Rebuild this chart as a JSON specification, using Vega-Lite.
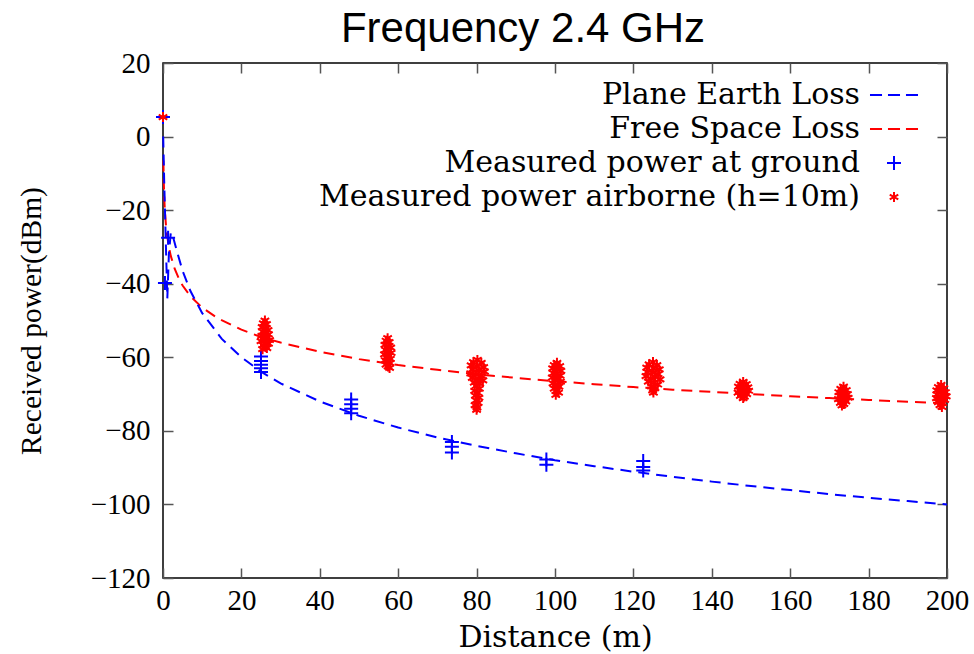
{
  "$schema": "https://vega.github.io/schema/vega-lite/v6.json",
  "width": 784,
  "height": 515,
  "autosize": {"type": "none"},
  "padding": {"left": 163, "top": 63, "right": 27, "bottom": 76},
  "background": "white",
  "title": {"text": "Frequency 2.4 GHz", "font": "Liberation Sans", "fontSize": 42, "fontWeight": "normal", "color": "black", "anchor": "middle", "dx": -32, "offset": -2},
  "config": {
    "view": {"stroke": "black", "strokeWidth": 1.5},
    "axis": {"labelFont": "Liberation Serif", "labelFontSize": 29, "labelColor": "black", "titleFont": "Liberation Serif", "titleFontSize": 30, "titleFontWeight": "normal", "titleColor": "black", "tickColor": "#555555", "tickWidth": 1.5, "tickSize": -10, "domain": false, "grid": false, "labelFlush": false, "labelOverlap": false},
    "legend": {"labelFont": "DejaVu Serif", "labelFontSize": 30, "labelColor": "black", "labelAlign": "right", "labelOffset": -49, "labelLimit": 1000, "symbolSize": 196, "symbolStrokeWidth": 2, "rowPadding": 4, "padding": 0}
  },
  "datasets": {
    "lines": [
      {"series": "Free Space Loss", "distance": 0.1, "power": -6.5},
      {"series": "Free Space Loss", "distance": 0.2, "power": -12.5},
      {"series": "Free Space Loss", "distance": 0.35, "power": -17.4},
      {"series": "Free Space Loss", "distance": 0.5, "power": -20.5},
      {"series": "Free Space Loss", "distance": 0.75, "power": -24},
      {"series": "Free Space Loss", "distance": 1, "power": -26.5},
      {"series": "Free Space Loss", "distance": 1.5, "power": -30},
      {"series": "Free Space Loss", "distance": 2, "power": -32.5},
      {"series": "Free Space Loss", "distance": 3, "power": -36},
      {"series": "Free Space Loss", "distance": 4, "power": -38.5},
      {"series": "Free Space Loss", "distance": 5, "power": -40.5},
      {"series": "Free Space Loss", "distance": 7, "power": -43.4},
      {"series": "Free Space Loss", "distance": 10, "power": -46.5},
      {"series": "Free Space Loss", "distance": 14, "power": -49.4},
      {"series": "Free Space Loss", "distance": 20, "power": -52.5},
      {"series": "Free Space Loss", "distance": 25, "power": -54.5},
      {"series": "Free Space Loss", "distance": 30, "power": -56},
      {"series": "Free Space Loss", "distance": 40, "power": -58.5},
      {"series": "Free Space Loss", "distance": 50, "power": -60.5},
      {"series": "Free Space Loss", "distance": 60, "power": -62.1},
      {"series": "Free Space Loss", "distance": 70, "power": -63.4},
      {"series": "Free Space Loss", "distance": 80, "power": -64.6},
      {"series": "Free Space Loss", "distance": 90, "power": -65.6},
      {"series": "Free Space Loss", "distance": 100, "power": -66.5},
      {"series": "Free Space Loss", "distance": 110, "power": -67.3},
      {"series": "Free Space Loss", "distance": 120, "power": -68.1},
      {"series": "Free Space Loss", "distance": 130, "power": -68.8},
      {"series": "Free Space Loss", "distance": 140, "power": -69.4},
      {"series": "Free Space Loss", "distance": 150, "power": -70},
      {"series": "Free Space Loss", "distance": 160, "power": -70.6},
      {"series": "Free Space Loss", "distance": 170, "power": -71.1},
      {"series": "Free Space Loss", "distance": 180, "power": -71.6},
      {"series": "Free Space Loss", "distance": 190, "power": -72.1},
      {"series": "Free Space Loss", "distance": 200, "power": -72.5},
      {"series": "Plane Earth Loss", "distance": 0.05, "power": 0},
      {"series": "Plane Earth Loss", "distance": 0.3, "power": -12},
      {"series": "Plane Earth Loss", "distance": 0.6, "power": -24},
      {"series": "Plane Earth Loss", "distance": 0.9, "power": -36},
      {"series": "Plane Earth Loss", "distance": 1.1, "power": -44},
      {"series": "Plane Earth Loss", "distance": 1.5, "power": -32},
      {"series": "Plane Earth Loss", "distance": 2, "power": -26},
      {"series": "Plane Earth Loss", "distance": 2.5, "power": -27},
      {"series": "Plane Earth Loss", "distance": 3.5, "power": -31},
      {"series": "Plane Earth Loss", "distance": 5, "power": -36.5},
      {"series": "Plane Earth Loss", "distance": 7, "power": -42},
      {"series": "Plane Earth Loss", "distance": 10, "power": -48},
      {"series": "Plane Earth Loss", "distance": 15, "power": -55},
      {"series": "Plane Earth Loss", "distance": 20, "power": -60},
      {"series": "Plane Earth Loss", "distance": 25, "power": -63.9},
      {"series": "Plane Earth Loss", "distance": 30, "power": -67.1},
      {"series": "Plane Earth Loss", "distance": 40, "power": -72},
      {"series": "Plane Earth Loss", "distance": 50, "power": -75.9},
      {"series": "Plane Earth Loss", "distance": 60, "power": -79.1},
      {"series": "Plane Earth Loss", "distance": 70, "power": -81.8},
      {"series": "Plane Earth Loss", "distance": 80, "power": -84.1},
      {"series": "Plane Earth Loss", "distance": 90, "power": -86.1},
      {"series": "Plane Earth Loss", "distance": 100, "power": -88},
      {"series": "Plane Earth Loss", "distance": 110, "power": -89.6},
      {"series": "Plane Earth Loss", "distance": 120, "power": -91.1},
      {"series": "Plane Earth Loss", "distance": 130, "power": -92.5},
      {"series": "Plane Earth Loss", "distance": 140, "power": -93.8},
      {"series": "Plane Earth Loss", "distance": 150, "power": -95},
      {"series": "Plane Earth Loss", "distance": 160, "power": -96.1},
      {"series": "Plane Earth Loss", "distance": 170, "power": -97.2},
      {"series": "Plane Earth Loss", "distance": 180, "power": -98.2},
      {"series": "Plane Earth Loss", "distance": 190, "power": -99.1},
      {"series": "Plane Earth Loss", "distance": 200, "power": -100}
    ],
    "points": [
      {"series": "Measured power at ground", "distance": 0, "power": 5.3},
      {"series": "Measured power at ground", "distance": 0.5, "power": -39.8},
      {"series": "Measured power at ground", "distance": 1.3, "power": -27.5},
      {"series": "Measured power at ground", "distance": 25, "power": -59.8},
      {"series": "Measured power at ground", "distance": 25, "power": -61},
      {"series": "Measured power at ground", "distance": 25, "power": -62},
      {"series": "Measured power at ground", "distance": 25, "power": -63},
      {"series": "Measured power at ground", "distance": 25, "power": -64},
      {"series": "Measured power at ground", "distance": 48, "power": -71.5},
      {"series": "Measured power at ground", "distance": 48, "power": -72.8},
      {"series": "Measured power at ground", "distance": 48, "power": -74},
      {"series": "Measured power at ground", "distance": 48, "power": -75.2},
      {"series": "Measured power at ground", "distance": 73.7, "power": -83},
      {"series": "Measured power at ground", "distance": 73.7, "power": -84.3},
      {"series": "Measured power at ground", "distance": 73.7, "power": -85.9},
      {"series": "Measured power at ground", "distance": 97.8, "power": -87.8},
      {"series": "Measured power at ground", "distance": 97.8, "power": -89.2},
      {"series": "Measured power at ground", "distance": 122.5, "power": -88.2},
      {"series": "Measured power at ground", "distance": 122.5, "power": -89.8},
      {"series": "Measured power at ground", "distance": 122.5, "power": -90.8},
      {"series": "Measured power airborne (h=10m)", "distance": 0, "power": 5.3},
      {"series": "Measured power airborne (h=10m)", "distance": 26.0, "power": -50.0},
      {"series": "Measured power airborne (h=10m)", "distance": 25.6, "power": -50.8},
      {"series": "Measured power airborne (h=10m)", "distance": 26.4, "power": -51.0},
      {"series": "Measured power airborne (h=10m)", "distance": 25.3, "power": -51.8},
      {"series": "Measured power airborne (h=10m)", "distance": 26.2, "power": -52.2},
      {"series": "Measured power airborne (h=10m)", "distance": 26.8, "power": -52.6},
      {"series": "Measured power airborne (h=10m)", "distance": 25.5, "power": -53.0},
      {"series": "Measured power airborne (h=10m)", "distance": 26.0, "power": -53.4},
      {"series": "Measured power airborne (h=10m)", "distance": 26.9, "power": -53.8},
      {"series": "Measured power airborne (h=10m)", "distance": 25.2, "power": -54.2},
      {"series": "Measured power airborne (h=10m)", "distance": 26.4, "power": -54.6},
      {"series": "Measured power airborne (h=10m)", "distance": 25.8, "power": -55.0},
      {"series": "Measured power airborne (h=10m)", "distance": 27.2, "power": -55.3},
      {"series": "Measured power airborne (h=10m)", "distance": 25.0, "power": -55.6},
      {"series": "Measured power airborne (h=10m)", "distance": 26.3, "power": -56.0},
      {"series": "Measured power airborne (h=10m)", "distance": 26.9, "power": -56.3},
      {"series": "Measured power airborne (h=10m)", "distance": 25.6, "power": -56.7},
      {"series": "Measured power airborne (h=10m)", "distance": 26.1, "power": -57.1},
      {"series": "Measured power airborne (h=10m)", "distance": 26.5, "power": -57.5},
      {"series": "Measured power airborne (h=10m)", "distance": 25.4, "power": -57.8},
      {"series": "Measured power airborne (h=10m)", "distance": 57.3, "power": -54.8},
      {"series": "Measured power airborne (h=10m)", "distance": 56.9, "power": -55.5},
      {"series": "Measured power airborne (h=10m)", "distance": 57.7, "power": -55.9},
      {"series": "Measured power airborne (h=10m)", "distance": 56.6, "power": -56.6},
      {"series": "Measured power airborne (h=10m)", "distance": 57.5, "power": -57.0},
      {"series": "Measured power airborne (h=10m)", "distance": 58.1, "power": -57.4},
      {"series": "Measured power airborne (h=10m)", "distance": 56.8, "power": -58.0},
      {"series": "Measured power airborne (h=10m)", "distance": 57.3, "power": -58.4},
      {"series": "Measured power airborne (h=10m)", "distance": 58.2, "power": -58.8},
      {"series": "Measured power airborne (h=10m)", "distance": 56.5, "power": -59.2},
      {"series": "Measured power airborne (h=10m)", "distance": 57.6, "power": -59.6},
      {"series": "Measured power airborne (h=10m)", "distance": 57.0, "power": -60.0},
      {"series": "Measured power airborne (h=10m)", "distance": 58.0, "power": -60.4},
      {"series": "Measured power airborne (h=10m)", "distance": 56.7, "power": -60.8},
      {"series": "Measured power airborne (h=10m)", "distance": 57.4, "power": -61.2},
      {"series": "Measured power airborne (h=10m)", "distance": 57.9, "power": -61.6},
      {"series": "Measured power airborne (h=10m)", "distance": 56.9, "power": -62.0},
      {"series": "Measured power airborne (h=10m)", "distance": 57.4, "power": -62.5},
      {"series": "Measured power airborne (h=10m)", "distance": 57.8, "power": -62.9},
      {"series": "Measured power airborne (h=10m)", "distance": 80.2, "power": -60.7},
      {"series": "Measured power airborne (h=10m)", "distance": 79.2, "power": -61.3},
      {"series": "Measured power airborne (h=10m)", "distance": 81.2, "power": -61.5},
      {"series": "Measured power airborne (h=10m)", "distance": 78.6, "power": -62.2},
      {"series": "Measured power airborne (h=10m)", "distance": 80.0, "power": -62.4},
      {"series": "Measured power airborne (h=10m)", "distance": 81.8, "power": -62.7},
      {"series": "Measured power airborne (h=10m)", "distance": 79.0, "power": -63.3},
      {"series": "Measured power airborne (h=10m)", "distance": 80.6, "power": -63.5},
      {"series": "Measured power airborne (h=10m)", "distance": 82.0, "power": -63.9},
      {"series": "Measured power airborne (h=10m)", "distance": 78.5, "power": -64.4},
      {"series": "Measured power airborne (h=10m)", "distance": 79.8, "power": -64.6},
      {"series": "Measured power airborne (h=10m)", "distance": 81.2, "power": -65.0},
      {"series": "Measured power airborne (h=10m)", "distance": 78.9, "power": -65.6},
      {"series": "Measured power airborne (h=10m)", "distance": 80.4, "power": -65.9},
      {"series": "Measured power airborne (h=10m)", "distance": 81.6, "power": -66.3},
      {"series": "Measured power airborne (h=10m)", "distance": 79.4, "power": -66.9},
      {"series": "Measured power airborne (h=10m)", "distance": 80.8, "power": -67.2},
      {"series": "Measured power airborne (h=10m)", "distance": 79.9, "power": -67.8},
      {"series": "Measured power airborne (h=10m)", "distance": 80.7, "power": -68.5},
      {"series": "Measured power airborne (h=10m)", "distance": 79.5, "power": -69.1},
      {"series": "Measured power airborne (h=10m)", "distance": 80.3, "power": -69.7},
      {"series": "Measured power airborne (h=10m)", "distance": 79.7, "power": -70.4},
      {"series": "Measured power airborne (h=10m)", "distance": 80.6, "power": -71.0},
      {"series": "Measured power airborne (h=10m)", "distance": 79.9, "power": -71.7},
      {"series": "Measured power airborne (h=10m)", "distance": 80.4, "power": -72.4},
      {"series": "Measured power airborne (h=10m)", "distance": 79.6, "power": -73.0},
      {"series": "Measured power airborne (h=10m)", "distance": 80.1, "power": -73.7},
      {"series": "Measured power airborne (h=10m)", "distance": 80.0, "power": -74.3},
      {"series": "Measured power airborne (h=10m)", "distance": 100.5, "power": -61.5},
      {"series": "Measured power airborne (h=10m)", "distance": 99.8, "power": -62.1},
      {"series": "Measured power airborne (h=10m)", "distance": 101.2, "power": -62.4},
      {"series": "Measured power airborne (h=10m)", "distance": 99.4, "power": -63.0},
      {"series": "Measured power airborne (h=10m)", "distance": 100.6, "power": -63.3},
      {"series": "Measured power airborne (h=10m)", "distance": 101.5, "power": -63.7},
      {"series": "Measured power airborne (h=10m)", "distance": 99.6, "power": -64.3},
      {"series": "Measured power airborne (h=10m)", "distance": 100.3, "power": -64.6},
      {"series": "Measured power airborne (h=10m)", "distance": 101.3, "power": -65.0},
      {"series": "Measured power airborne (h=10m)", "distance": 99.3, "power": -65.5},
      {"series": "Measured power airborne (h=10m)", "distance": 100.8, "power": -65.8},
      {"series": "Measured power airborne (h=10m)", "distance": 100.0, "power": -66.3},
      {"series": "Measured power airborne (h=10m)", "distance": 101.4, "power": -66.6},
      {"series": "Measured power airborne (h=10m)", "distance": 99.5, "power": -67.1},
      {"series": "Measured power airborne (h=10m)", "distance": 100.6, "power": -67.5},
      {"series": "Measured power airborne (h=10m)", "distance": 101.0, "power": -68.0},
      {"series": "Measured power airborne (h=10m)", "distance": 99.8, "power": -68.5},
      {"series": "Measured power airborne (h=10m)", "distance": 100.4, "power": -69.1},
      {"series": "Measured power airborne (h=10m)", "distance": 100.9, "power": -69.6},
      {"series": "Measured power airborne (h=10m)", "distance": 100.2, "power": -70.2},
      {"series": "Measured power airborne (h=10m)", "distance": 125.0, "power": -61.3},
      {"series": "Measured power airborne (h=10m)", "distance": 124.0, "power": -61.9},
      {"series": "Measured power airborne (h=10m)", "distance": 126.0, "power": -62.1},
      {"series": "Measured power airborne (h=10m)", "distance": 123.4, "power": -62.8},
      {"series": "Measured power airborne (h=10m)", "distance": 125.2, "power": -63.0},
      {"series": "Measured power airborne (h=10m)", "distance": 126.6, "power": -63.3},
      {"series": "Measured power airborne (h=10m)", "distance": 123.6, "power": -64.0},
      {"series": "Measured power airborne (h=10m)", "distance": 124.8, "power": -64.2},
      {"series": "Measured power airborne (h=10m)", "distance": 126.3, "power": -64.6},
      {"series": "Measured power airborne (h=10m)", "distance": 123.2, "power": -65.1},
      {"series": "Measured power airborne (h=10m)", "distance": 125.6, "power": -65.3},
      {"series": "Measured power airborne (h=10m)", "distance": 124.4, "power": -65.8},
      {"series": "Measured power airborne (h=10m)", "distance": 126.8, "power": -66.0},
      {"series": "Measured power airborne (h=10m)", "distance": 123.8, "power": -66.6},
      {"series": "Measured power airborne (h=10m)", "distance": 125.3, "power": -66.9},
      {"series": "Measured power airborne (h=10m)", "distance": 126.2, "power": -67.4},
      {"series": "Measured power airborne (h=10m)", "distance": 124.6, "power": -67.9},
      {"series": "Measured power airborne (h=10m)", "distance": 125.5, "power": -68.4},
      {"series": "Measured power airborne (h=10m)", "distance": 124.9, "power": -69.0},
      {"series": "Measured power airborne (h=10m)", "distance": 125.1, "power": -69.6},
      {"series": "Measured power airborne (h=10m)", "distance": 148.0, "power": -66.7},
      {"series": "Measured power airborne (h=10m)", "distance": 147.2, "power": -67.2},
      {"series": "Measured power airborne (h=10m)", "distance": 148.8, "power": -67.3},
      {"series": "Measured power airborne (h=10m)", "distance": 146.8, "power": -68.0},
      {"series": "Measured power airborne (h=10m)", "distance": 147.9, "power": -68.1},
      {"series": "Measured power airborne (h=10m)", "distance": 149.2, "power": -68.2},
      {"series": "Measured power airborne (h=10m)", "distance": 147.0, "power": -68.9},
      {"series": "Measured power airborne (h=10m)", "distance": 148.4, "power": -69.0},
      {"series": "Measured power airborne (h=10m)", "distance": 149.4, "power": -69.1},
      {"series": "Measured power airborne (h=10m)", "distance": 146.7, "power": -69.6},
      {"series": "Measured power airborne (h=10m)", "distance": 147.7, "power": -69.8},
      {"series": "Measured power airborne (h=10m)", "distance": 148.9, "power": -70.0},
      {"series": "Measured power airborne (h=10m)", "distance": 147.3, "power": -70.5},
      {"series": "Measured power airborne (h=10m)", "distance": 148.3, "power": -70.7},
      {"series": "Measured power airborne (h=10m)", "distance": 148.0, "power": -71.1},
      {"series": "Measured power airborne (h=10m)", "distance": 173.6, "power": -68.0},
      {"series": "Measured power airborne (h=10m)", "distance": 172.9, "power": -68.6},
      {"series": "Measured power airborne (h=10m)", "distance": 174.3, "power": -68.9},
      {"series": "Measured power airborne (h=10m)", "distance": 172.4, "power": -69.5},
      {"series": "Measured power airborne (h=10m)", "distance": 173.5, "power": -69.7},
      {"series": "Measured power airborne (h=10m)", "distance": 174.6, "power": -70.0},
      {"series": "Measured power airborne (h=10m)", "distance": 172.6, "power": -70.5},
      {"series": "Measured power airborne (h=10m)", "distance": 173.8, "power": -70.7},
      {"series": "Measured power airborne (h=10m)", "distance": 174.8, "power": -71.0},
      {"series": "Measured power airborne (h=10m)", "distance": 172.3, "power": -71.4},
      {"series": "Measured power airborne (h=10m)", "distance": 173.3, "power": -71.6},
      {"series": "Measured power airborne (h=10m)", "distance": 174.2, "power": -72.0},
      {"series": "Measured power airborne (h=10m)", "distance": 172.8, "power": -72.4},
      {"series": "Measured power airborne (h=10m)", "distance": 173.7, "power": -72.7},
      {"series": "Measured power airborne (h=10m)", "distance": 173.2, "power": -73.1},
      {"series": "Measured power airborne (h=10m)", "distance": 198.5, "power": -67.5},
      {"series": "Measured power airborne (h=10m)", "distance": 197.8, "power": -68.1},
      {"series": "Measured power airborne (h=10m)", "distance": 199.2, "power": -68.4},
      {"series": "Measured power airborne (h=10m)", "distance": 197.4, "power": -69.0},
      {"series": "Measured power airborne (h=10m)", "distance": 198.6, "power": -69.2},
      {"series": "Measured power airborne (h=10m)", "distance": 199.6, "power": -69.5},
      {"series": "Measured power airborne (h=10m)", "distance": 197.5, "power": -70.1},
      {"series": "Measured power airborne (h=10m)", "distance": 198.8, "power": -70.3},
      {"series": "Measured power airborne (h=10m)", "distance": 199.8, "power": -70.6},
      {"series": "Measured power airborne (h=10m)", "distance": 197.3, "power": -71.1},
      {"series": "Measured power airborne (h=10m)", "distance": 198.3, "power": -71.3},
      {"series": "Measured power airborne (h=10m)", "distance": 199.4, "power": -71.6},
      {"series": "Measured power airborne (h=10m)", "distance": 197.8, "power": -72.2},
      {"series": "Measured power airborne (h=10m)", "distance": 198.9, "power": -72.5},
      {"series": "Measured power airborne (h=10m)", "distance": 198.2, "power": -73.0},
      {"series": "Measured power airborne (h=10m)", "distance": 198.7, "power": -73.5}
    ]
  },
  "layer": [
    {
      "data": {"name": "lines"},
      "mark": {"type": "line", "strokeDash": [11, 7], "strokeWidth": 2},
      "encoding": {
        "x": {"field": "distance", "type": "quantitative", "scale": {"domain": [0, 200], "nice": false, "zero": false},
              "axis": {"orient": "bottom", "title": "Distance (m)", "titleFont": "DejaVu Serif", "titleFontSize": 30, "values": [0, 20, 40, 60, 80, 100, 120, 140, 160, 180, 200], "labelPadding": 18, "titlePadding": 7}},
        "y": {"field": "power", "type": "quantitative", "scale": {"domain": [-120, 20], "nice": false, "zero": false},
              "axis": {"orient": "left", "title": "Received power(dBm)", "titleFontSize": 29.5, "values": [-120, -100, -80, -60, -40, -20, 0, 20], "labelPadding": 23, "titlePadding": 44}},
        "stroke": {"field": "series", "type": "nominal",
                   "scale": {"domain": ["Plane Earth Loss", "Free Space Loss"], "range": ["#0000ff", "#ff0000"]},
                   "legend": null}
      }
    },
    {
      "data": {"name": "points"},
      "mark": {"type": "point", "filled": false, "size": 196, "strokeWidth": 2, "opacity": 1},
      "encoding": {
        "x": {"field": "distance", "type": "quantitative", "axis": {"orient": "top", "labels": false, "title": null, "values": [0, 20, 40, 60, 80, 100, 120, 140, 160, 180, 200]}},
        "y": {"field": "power", "type": "quantitative", "axis": {"orient": "right", "labels": false, "title": null, "values": [-120, -100, -80, -60, -40, -20, 0, 20]}},
        "color": {"field": "series", "type": "nominal",
                  "scale": {"domain": ["Plane Earth Loss", "Free Space Loss", "Measured power at ground", "Measured power airborne (h=10m)"], "range": ["#0000ff", "#ff0000", "#0000ff", "#ff0000"]},
                  "legend": {"title": null, "orient": "none", "legendX": 716, "legendY": 17}},
        "shape": {"field": "series", "type": "nominal",
                  "scale": {"domain": ["Plane Earth Loss", "Free Space Loss", "Measured power at ground", "Measured power airborne (h=10m)"],
                            "range": ["M-3.43,0H-1.71M-0.86,0H0.86M1.71,0H3.43", "M-3.43,0H-1.71M-0.86,0H0.86M1.71,0H3.43", "M-1,0H1M0,-1V1", "M0,-0.71V0.71M-0.61,-0.355L0.61,0.355M-0.61,0.355L0.61,-0.355"]},
                  "legend": {"title": null, "orient": "none", "legendX": 716, "legendY": 17}}
      }
    }
  ],
  "resolve": {"axis": {"x": "independent", "y": "independent"}}
}
